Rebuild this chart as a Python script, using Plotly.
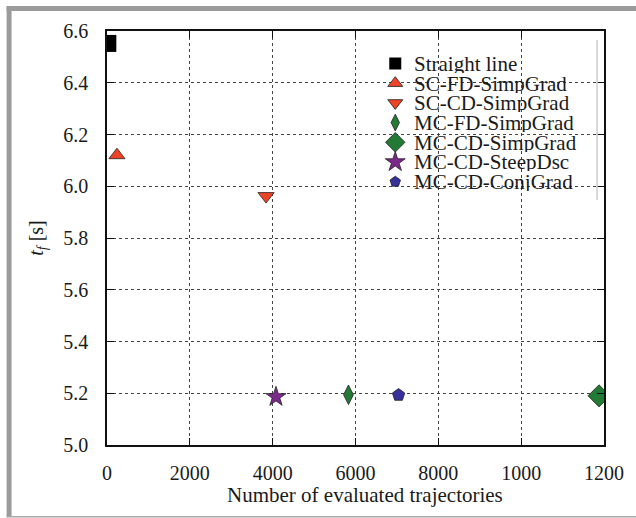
import plotly.graph_objects as go

# ---- data ----
names = ["Straight line", "SC-FD-SimpGrad", "SC-CD-SimpGrad", "MC-FD-SimpGrad",
         "MC-CD-SimpGrad", "MC-CD-SteepDsc", "MC-CD-ConjGrad"]
evals = [20, 240, 3840, 5830, 11880, 4080, 7040]
tf = [6.552, 6.12, 5.962, 5.194, 5.19, 5.186, 5.193]

x_tickvals = [0, 2000, 4000, 6000, 8000, 10000, 12000]
x_ticktext = ["0", "2000", "4000", "6000", "8000", "1000", "1200"]
y_tickvals = [5.0, 5.2, 5.4, 5.6, 5.8, 6.0, 6.2, 6.4, 6.6]
y_ticktext = ["5.0", "5.2", "5.4", "5.6", "5.8", "6.0", "6.2", "6.4", "6.6"]
x_title = "Number of evaluated trajectories"
y_title = "<i>t</i><sub><i>f</i></sub> [s]"

# ---- styles ----
symbols = ["square", "triangle-up", "triangle-down", "diamond-tall", "diamond", "star", "pentagon"]
colors = ["#000000", "#ee4326", "#ee4326", "#237a35", "#237a35", "#7b2a8c", "#35309a"]
sizes = [17, 14, 14, 14, 17, 15, 13]
leg_sizes = [12, 13, 13, 12, 15, 15, 11]

W, H = 636, 518
L, R, T, B = 107, 29, 31, 73
PW, PH = W - L - R, H - T - B
FONT = "'Liberation Serif', 'Times New Roman', 'DejaVu Serif', serif"


def px_x(px):
    return (px - L) / PW


def px_y(py):
    return (H - B - py) / PH


fig = go.Figure()

for i, n in enumerate(names):
    fig.add_trace(go.Scatter(
        x=[evals[i]], y=[tf[i]], mode="markers", name=n, showlegend=False,
        marker=dict(symbol=symbols[i], color=colors[i], size=sizes[i], opacity=1,
                    line=dict(color="#222222", width=0.8 if i > 0 else 0)),
    ))

# manual legend (symbols on an overlay axis in paper-like units)
row0, step = 63.5, 19.7
leg_y = [px_y(row0 + i * step) for i in range(len(names))]
fig.add_trace(go.Scatter(
    x=[px_x(397)] * len(names), y=leg_y, mode="markers", showlegend=False,
    xaxis="x2", yaxis="y2", cliponaxis=False, hoverinfo="skip",
    marker=dict(symbol=symbols, color=colors, size=leg_sizes, opacity=1,
                line=dict(color="#222222", width=[0, 0.8, 0.8, 0.8, 0.8, 0.8, 0.8])),
))
annotations = []
for i, n in enumerate(names):
    annotations.append(dict(
        x=px_x(414), y=leg_y[i], xref="paper", yref="paper", text=n, showarrow=False,
        xanchor="left", yanchor="middle", height=19, valign="middle",
        font=dict(family=FONT, size=21, color="#1a1a1a"),
    ))
# x-axis title
annotations.append(dict(
    x=px_x(367), y=px_y(495), xref="paper", yref="paper", text=x_title, showarrow=False,
    xanchor="center", yanchor="middle", font=dict(family=FONT, size=21, color="#1a1a1a"),
))

shapes = [
    # legend background and its faint right edge
    dict(type="rect", xref="x domain", yref="y domain", x0=px_x(373), x1=px_x(599),
         y0=px_y(200), y1=px_y(37), fillcolor="white", line=dict(width=0), layer="below"),
    dict(type="line", xref="paper", yref="paper", x0=px_x(600), x1=px_x(600),
         y0=px_y(200), y1=px_y(40), line=dict(color="#cccccc", width=1.5)),
    # gray frame
    dict(type="rect", xref="paper", yref="paper", x0=px_x(6), x1=px_x(640),
         y0=px_y(11), y1=px_y(6), fillcolor="#9b9b9b", line=dict(width=0)),
    dict(type="rect", xref="paper", yref="paper", x0=px_x(6), x1=px_x(11),
         y0=px_y(517), y1=px_y(6), fillcolor="#9b9b9b", line=dict(width=0)),
    dict(type="rect", xref="paper", yref="paper", x0=px_x(6), x1=px_x(640),
         y0=px_y(517.5), y1=px_y(516), fillcolor="#a8a8a8", line=dict(width=0)),
]

axis_common = dict(
    showline=True, linecolor="#111111", linewidth=1.6, mirror="ticks",
    ticks="inside", ticklen=7, tickcolor="#111111", tickwidth=1,
    showgrid=True, gridcolor="#444444", griddash="dot", gridwidth=1,
    zeroline=False, tickfont=dict(family=FONT, size=20, color="#1a1a1a"),
)

fig.update_layout(
    width=W, height=H, margin=dict(l=L, r=R, t=T, b=B),
    paper_bgcolor="white", plot_bgcolor="white",
    xaxis=dict(range=[0, 12000], tickvals=x_tickvals, ticktext=x_ticktext,
               ticklabelstandoff=9, **axis_common),
    yaxis=dict(range=[5.0, 6.6], tickvals=y_tickvals, ticktext=y_ticktext,
               ticklabelstandoff=13,
               title=dict(text=y_title, standoff=14,
                          font=dict(family=FONT, size=20, color="#1a1a1a")),
               **axis_common),
    xaxis2=dict(range=[0, 1], overlaying="x", visible=False, fixedrange=True),
    yaxis2=dict(range=[0, 1], overlaying="y", visible=False, fixedrange=True),
    annotations=annotations, shapes=shapes, showlegend=False,
)

fig.write_html("out.html", config={"displayModeBar": False},
               post_script="document.body.style.margin='0';")
